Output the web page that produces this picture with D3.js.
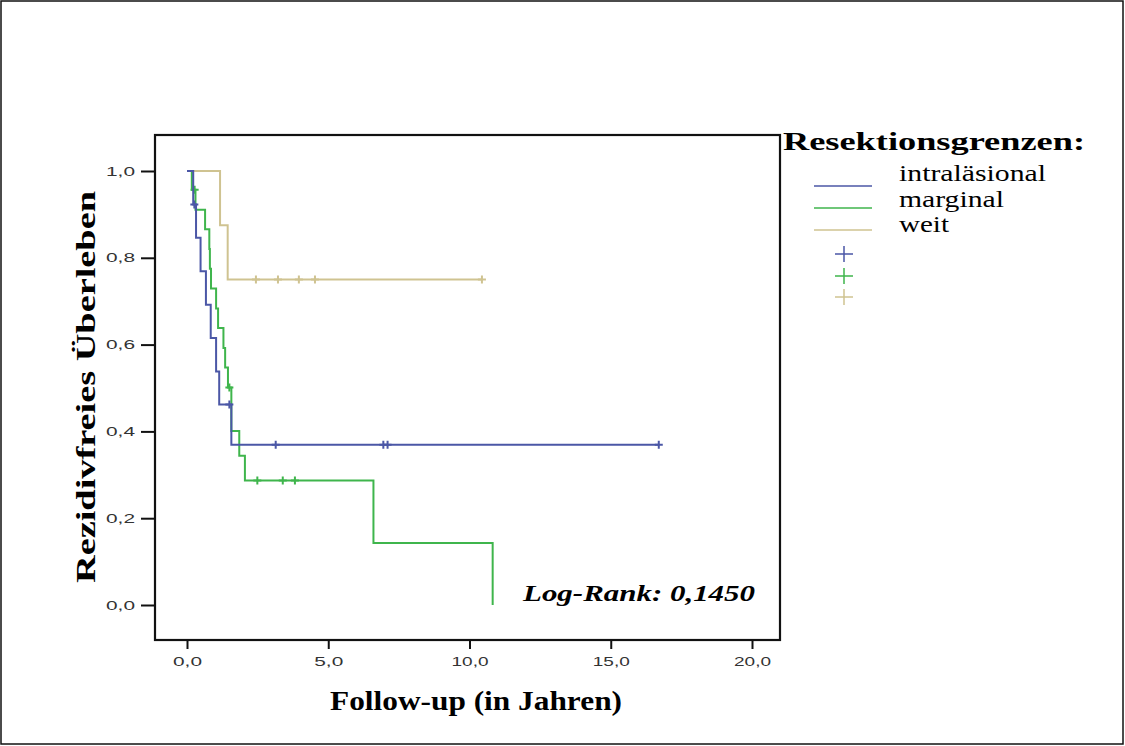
<!DOCTYPE html>
<html>
<head>
<meta charset="utf-8">
<script src="https://cdn.jsdelivr.net/npm/d3@7"></script>
<style>
  body { margin: 0; background: #fff; }
  svg { display: block; }
</style>
</head>
<body>
<svg width="1125" height="746"></svg>
<script>
// Kaplan-Meier, Resektionsgrenzen
var groups = ["intraläsional", "marginal", "weit"];
var colors = ["#4b57a6", "#3fb54c", "#cfc391"];

// step times (years) and survival after each step
var intraTimes = [0, 0.22, 0.32, 0.48, 0.67, 0.84, 1.03, 1.14, 1.57, 16.7];
var intraSurv = [1, 0.923, 0.846, 0.769, 0.692, 0.615, 0.538, 0.462, 0.369, 0.369];
var intraCensor = [0.26, 1.50, 3.14, 6.95, 7.1, 16.7];

var margTimes = [0, 0.17, 0.30, 0.64, 0.79, 0.81, 0.85, 1.03, 1.10, 1.29, 1.35, 1.45, 1.57, 1.85, 2.05, 6.6, 10.82];
var margSurv = [1, 0.957, 0.911, 0.866, 0.820, 0.775, 0.729, 0.683, 0.638, 0.592, 0.547, 0.501, 0.401, 0.344, 0.287, 0.143, 0];
var margCensor = [0.27, 1.50, 2.49, 3.39, 3.82];

var weitTimes = [0, 1.17, 1.44, 10.44];
var weitSurv = [1, 0.875, 0.75, 0.75];
var weitCensor = [2.44, 3.22, 3.96, 4.53, 10.44];

var xTicks = [0, 5, 10, 15, 20];
var yTicks = [0, 0.2, 0.4, 0.6, 0.8, 1.0];

var series = [
    { times: intraTimes, surv: intraSurv, censor: intraCensor },
    { times: margTimes, surv: margSurv, censor: margCensor },
    { times: weitTimes, surv: weitSurv, censor: weitCensor }
];

var svg = d3.select("svg");
var serif = "'Liberation Serif', 'Times New Roman', serif";
var sans = "'Liberation Sans', Arial, sans-serif";

// outer border
svg.append("rect")
    .attr("x", 1).attr("y", 1)
    .attr("width", 1122).attr("height", 743)
    .attr("fill", "none").attr("stroke", "#111").attr("stroke-width", 1.5);

var box = { left: 155, top: 135, right: 780, bottom: 640 };

var x = d3.scaleLinear().domain([0, 20]).range([187, 752]);
var y = d3.scaleLinear().domain([0, 1]).range([605, 171]);

var fmt = d => d3.format(".1f")(d).replace(".", ",");

// axes
var yAxis = svg.append("g")
    .attr("transform", "translate(" + box.left + ",0)")
    .call(d3.axisLeft(y).tickValues(yTicks).tickFormat(fmt).tickSize(14).tickPadding(6));
var xAxis = svg.append("g")
    .attr("transform", "translate(0," + box.bottom + ")")
    .call(d3.axisBottom(x).tickValues(xTicks).tickFormat(fmt).tickSize(9).tickPadding(8));

[yAxis, xAxis].forEach(function(a) {
    a.select(".domain").remove();
    a.selectAll(".tick line").attr("stroke", "#111").attr("stroke-width", 2);
    // labels in the picture are wide, stretch them
    a.selectAll(".tick text")
        .attr("fill", "#333")
        .attr("textLength", function() { return this.textContent.length > 3 ? 37 : 29; })
        .attr("lengthAdjust", "spacingAndGlyphs")
        .style("font-family", sans)
        .style("font-size", "13px");
});

// plot frame
svg.append("rect")
    .attr("x", box.left).attr("y", box.top)
    .attr("width", box.right - box.left).attr("height", box.bottom - box.top)
    .attr("fill", "none").attr("stroke", "#111").attr("stroke-width", 2.2);

// survival value at time t (step lookup)
function survAt(s, t) {
    var v = s.surv[0];
    s.times.forEach(function(tt, i) { if (tt <= t) v = s.surv[i]; });
    return v;
}

var line = d3.line()
    .x(d => x(d[0]))
    .y(d => y(d[1]))
    .curve(d3.curveStepAfter);

// draw weit first so others sit on top
[2, 1, 0].forEach(function(k) {
    var s = series[k];
    var pts = s.times.map((t, i) => [t, s.surv[i]]);
    svg.append("path")
        .attr("d", line(pts))
        .attr("fill", "none")
        .attr("stroke", colors[k])
        .attr("stroke-width", 2);

    svg.selectAll(null)
        .data(s.censor)
        .enter()
      .append("path")
        .attr("d", function(t) {
            var cx = x(t), cy = y(survAt(s, t));
            return "M" + (cx - 4) + "," + cy + "H" + (cx + 4) + "M" + cx + "," + (cy - 4) + "V" + (cy + 4);
        })
        .attr("stroke", colors[k])
        .attr("stroke-width", 2);
});

// legend
svg.append("text")
    .attr("x", 783).attr("y", 150)
    .attr("textLength", 302).attr("lengthAdjust", "spacingAndGlyphs")
    .style("font-family", serif).style("font-weight", "bold").style("font-size", "25px")
    .text("Resektionsgrenzen:");

var legY = [186, 208, 230];
var labY = [181, 207, 232];
var labW = [147, 105, 50];
groups.forEach(function(g, i) {
    svg.append("line")
        .attr("x1", 814).attr("x2", 872)
        .attr("y1", legY[i]).attr("y2", legY[i])
        .attr("stroke", colors[i]).attr("stroke-width", 1.5);
    svg.append("text")
        .attr("x", 899).attr("y", labY[i])
        .attr("textLength", labW[i]).attr("lengthAdjust", "spacingAndGlyphs")
        .style("font-family", serif).style("font-size", "24px")
        .text(g);
});
var crossY = [254, 276, 297];
groups.forEach(function(g, i) {
    svg.append("path")
        .attr("d", "M835," + crossY[i] + "H853M844," + (crossY[i] - 8) + "V" + (crossY[i] + 8))
        .attr("stroke", colors[i]).attr("stroke-width", 1.5);
});

// axis titles
svg.append("text")
    .attr("x", 476).attr("y", 710)
    .attr("text-anchor", "middle")
    .attr("textLength", 292).attr("lengthAdjust", "spacingAndGlyphs")
    .style("font-family", serif).style("font-weight", "bold").style("font-size", "27px")
    .text("Follow-up (in Jahren)");

svg.append("text")
    .attr("transform", "translate(95,387) rotate(-90)")
    .attr("text-anchor", "middle")
    .attr("textLength", 392).attr("lengthAdjust", "spacingAndGlyphs")
    .style("font-family", serif).style("font-weight", "bold").style("font-size", "28px")
    .text("Rezidivfreies Überleben");

svg.append("text")
    .attr("x", 523).attr("y", 601)
    .attr("textLength", 232).attr("lengthAdjust", "spacingAndGlyphs")
    .style("font-family", serif).style("font-weight", "bold").style("font-style", "italic")
    .style("font-size", "23px")
    .text("Log-Rank: 0,1450");
</script>
</body>
</html>
